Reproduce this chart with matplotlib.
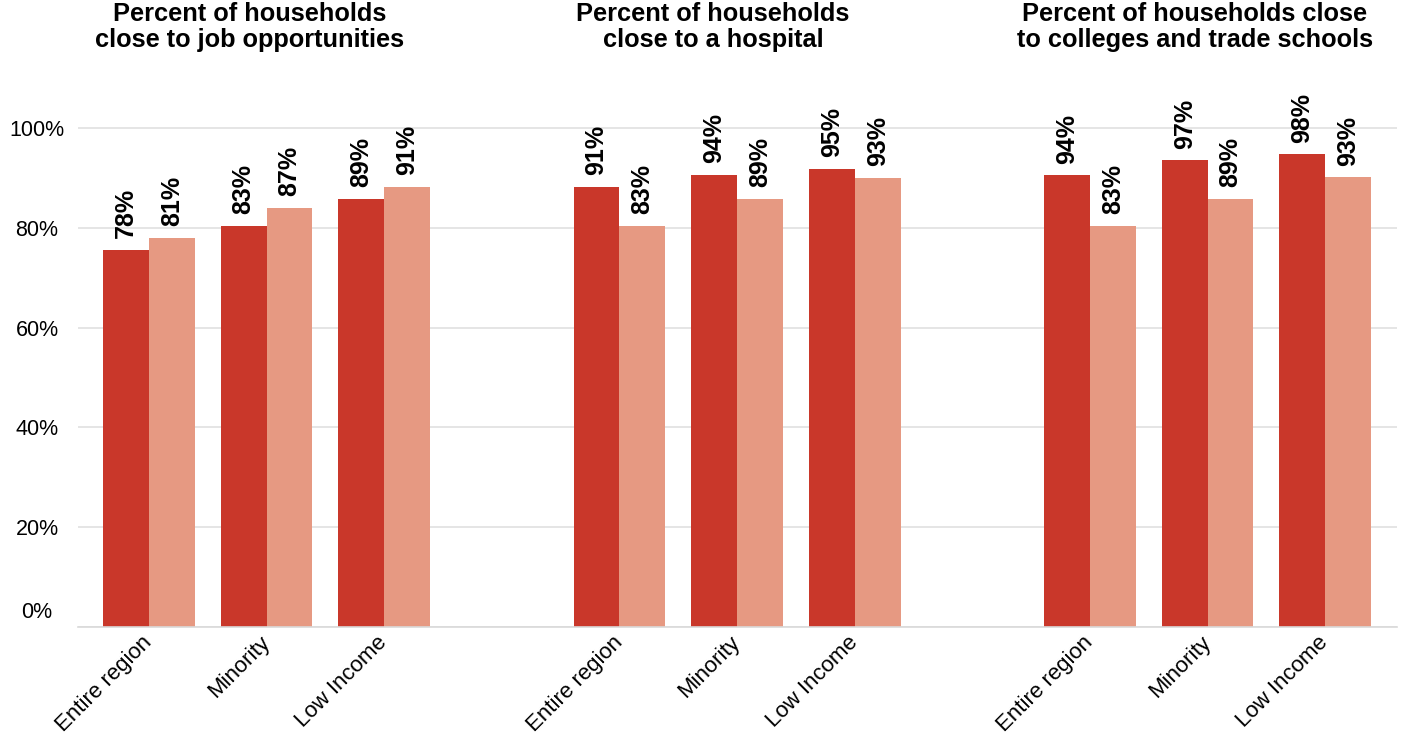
import numpy as np
import matplotlib.pyplot as plt
from matplotlib.transforms import ScaledTranslation

plt.rcParams['font.family'] = ['Liberation Sans', 'DejaVu Sans']

# categories inside each panel
categories = ["Entire region", "Minority", "Low Income"]

panel_titles = [
    "Percent of households\nclose to job opportunities",
    "Percent of households\nclose to a hospital",
    "Percent of households close\nto colleges and trade schools",
]

# bar heights as drawn (they sit a little below the printed labels)
jobs_dark = [75.5, 80.4, 85.8]
jobs_light = [78.0, 84.0, 88.2]
hosp_dark = [88.2, 90.6, 91.8]
hosp_light = [80.3, 85.8, 90.0]
coll_dark = [90.5, 93.5, 94.7]
coll_light = [80.3, 85.8, 90.1]

# printed labels
jobs_dark_lbl = [78, 83, 89]
jobs_light_lbl = [81, 87, 91]
hosp_dark_lbl = [91, 94, 95]
hosp_light_lbl = [83, 89, 93]
coll_dark_lbl = [94, 97, 98]
coll_light_lbl = [83, 89, 93]

y_ticks = [0, 20, 40, 60, 80, 100]

DARK = "#c9372a"
LIGHT = "#e69982"
GRID = "#e0e0e0"

panels = [
    (jobs_dark, jobs_light, jobs_dark_lbl, jobs_light_lbl),
    (hosp_dark, hosp_light, hosp_dark_lbl, hosp_light_lbl),
    (coll_dark, coll_light, coll_dark_lbl, coll_light_lbl),
]

fig = plt.figure(figsize=(14.05, 7.38), dpi=100)
ax = fig.add_axes([78 / 1405, 111 / 738, 1319 / 1405, 549 / 738])

w = 0.39
x = np.arange(len(categories))
tick_pos = []
for g, (dark, light, dark_lbl, light_lbl) in enumerate(panels):
    pos = x + 4 * g
    tick_pos.extend(pos)
    b1 = ax.bar(pos - w / 2, dark, w, color=DARK, zorder=2)
    b2 = ax.bar(pos + w / 2, light, w, color=LIGHT, zorder=2)
    ax.bar_label(b1, labels=[f"{v}%" for v in dark_lbl], padding=8.5, rotation=90,
                 fontsize=18, fontweight='bold')
    ax.bar_label(b2, labels=[f"{v}%" for v in light_lbl], padding=8.5, rotation=90,
                 fontsize=18, fontweight='bold')

ax.set_xlim(-0.603, 10.61)
ax.set_ylim(0, 110)

ax.set_yticks(y_ticks)
ax.set_yticklabels([f"{v}%" for v in y_ticks], fontsize=15.5, ha='center')
ax.tick_params(axis='y', length=0, pad=29.5)
ax.yaxis.grid(True, color=GRID, lw=1.2)
ax.set_axisbelow(True)

ax.set_xticks(tick_pos)
ax.set_xticklabels(categories * 3, fontsize=16, rotation=45, ha='right',
                   va='center', rotation_mode='anchor')
ax.tick_params(axis='x', length=0, pad=9)

for s in ['left', 'top', 'right']:
    ax.spines[s].set_visible(False)
ax.spines['bottom'].set_color('#d9d9d9')
ax.spines['bottom'].set_linewidth(1.2)

# the 0% label is lifted off the baseline in the original
lbl0 = ax.get_yticklabels()[0]
lbl0.set_transform(lbl0.get_transform() + ScaledTranslation(0, 12 / 72, fig.dpi_scale_trans))

# panel headings
for xt, t in zip([250 / 1405, 713 / 1405, 1195 / 1405], panel_titles):
    fig.text(xt, 0.997, t, ha='center', va='top', fontsize=18.3,
             fontweight='bold', linespacing=1.12)

fig.savefig('out.png', dpi=100)
